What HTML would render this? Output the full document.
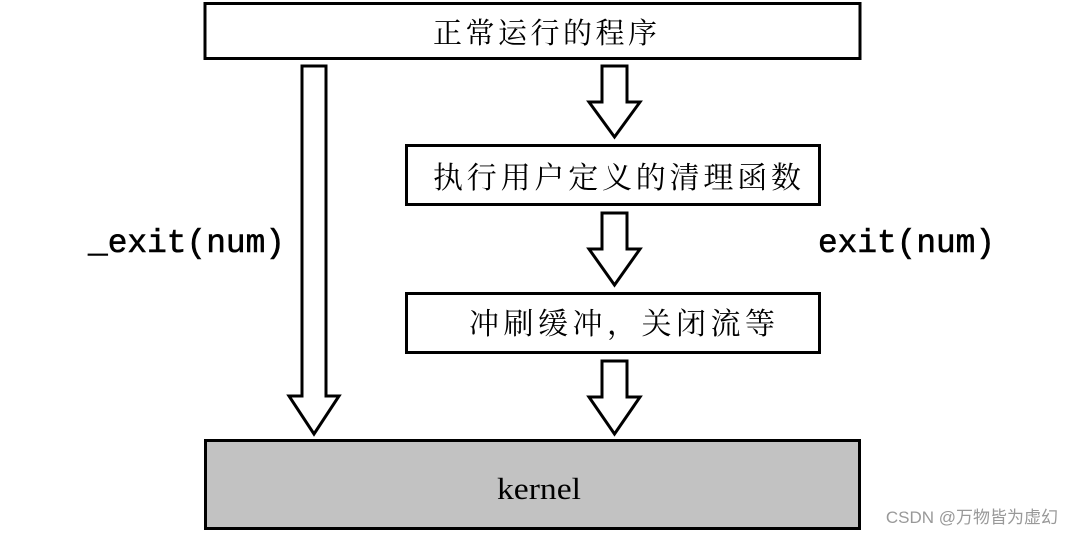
<!DOCTYPE html>
<html><head><meta charset="utf-8"><style>
html,body{margin:0;padding:0;background:#fff;}
body{width:1073px;height:535px;overflow:hidden;position:relative;}
</style></head><body>
<svg width="1073" height="535" xmlns="http://www.w3.org/2000/svg" style="position:absolute;left:0;top:0">
<g stroke="#000" stroke-width="3" fill="#fff">
<rect x="205" y="3.5" width="655" height="55"/>
<rect x="406.5" y="145.5" width="413" height="59"/>
<rect x="406.5" y="293.5" width="413" height="59"/>
<rect x="205.5" y="440.5" width="654" height="88" fill="#c2c2c2"/>
<polygon points="302,66 326,66 326,396 339,396 314,434 289,396 302,396"/>
<polygon points="602,66 627,66 627,102 640,102 614.5,137 589,102 602,102"/>
<polygon points="602,213 627,213 627,249 640,249 614.5,285 589,249 602,249"/>
<polygon points="602,361 627,361 627,397 640,397 614.5,434 589,397 602,397"/>
</g>
<g font-family="'Liberation Serif','Noto Serif CJK SC','Noto Sans CJK SC',serif" font-size="29" fill="#000">
<text x="433" y="43" textLength="224" lengthAdjust="spacing">正常运行的程序</text>
<text x="433" y="188" font-size="30" textLength="368" lengthAdjust="spacing">执行用户定义的清理函数</text>
<text x="469" y="334" font-size="30" textLength="306" lengthAdjust="spacing">冲刷缓冲，关闭流等</text>
<text x="497" y="499" font-size="31" textLength="84" lengthAdjust="spacingAndGlyphs">kernel</text>
</g>
<g font-family="'Liberation Mono',monospace" font-size="33" fill="#000" stroke="#000" stroke-width="0.6">
<text x="88" y="252" textLength="197" lengthAdjust="spacingAndGlyphs">_exit(num)</text>
<text x="818" y="252" textLength="177" lengthAdjust="spacingAndGlyphs">exit(num)</text>
</g>
<text x="1058" y="523" text-anchor="end" font-family="'Liberation Sans','Noto Sans CJK SC',sans-serif" font-size="17" fill="#999">CSDN @万物皆为虚幻</text>
</svg>
</body></html>
